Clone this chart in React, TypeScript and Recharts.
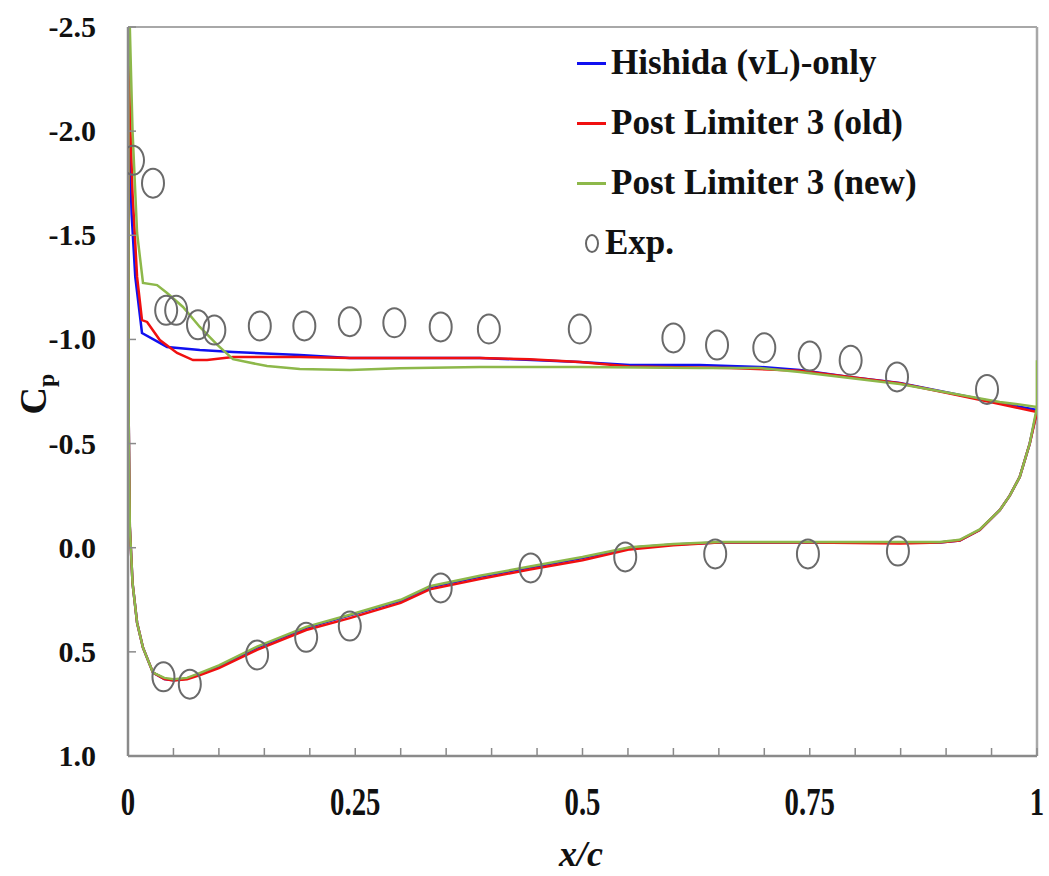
import React from 'react';
import { ComposedChart, Line, Scatter, XAxis, YAxis, ReferenceLine } from 'recharts';

// Pressure coefficient along the chord: upper surface from TE to LE, then lower surface back to TE
const hishidaX = [1.0, 0.959, 0.904, 0.849, 0.794, 0.739, 0.695, 0.629, 0.552, 0.497, 0.387, 0.244, 0.189, 0.1155, 0.079, 0.043, 0.0154, 0.008, 0.004, 0.002, 0.0005,
  0.0008, 0.002, 0.005, 0.01, 0.0165, 0.0275, 0.04, 0.05, 0.065, 0.08, 0.1, 0.142, 0.196, 0.244, 0.3, 0.332, 0.387, 0.442, 0.5, 0.552, 0.6, 0.65, 0.75, 0.85, 0.893, 0.915, 0.937, 0.959, 0.97, 0.981, 0.992, 1.0];
const hishidaCp = [-0.661, -0.695, -0.743, -0.791, -0.82, -0.853, -0.868, -0.877, -0.877, -0.892, -0.911, -0.911, -0.925, -0.94, -0.949, -0.964, -1.031, -1.3, -1.6, -1.9, -2.0,
  -0.6, -0.1, 0.17, 0.36, 0.48, 0.6, 0.63, 0.636, 0.628, 0.605, 0.57, 0.48, 0.385, 0.325, 0.255, 0.19, 0.14, 0.095, 0.05, 0.0, -0.015, -0.025, -0.025, -0.025, -0.025, -0.035, -0.085, -0.18, -0.25, -0.34, -0.5, -0.661];

const oldX = [1.0, 0.959, 0.904, 0.849, 0.794, 0.739, 0.662, 0.585, 0.552, 0.497, 0.442, 0.387, 0.244, 0.189, 0.1155, 0.087, 0.0715, 0.054, 0.035, 0.021, 0.0154, 0.01, 0.005, 0.002, 0.0005,
  0.0008, 0.002, 0.005, 0.01, 0.0165, 0.0275, 0.04, 0.05, 0.065, 0.08, 0.1, 0.142, 0.196, 0.244, 0.3, 0.332, 0.387, 0.442, 0.5, 0.552, 0.6, 0.65, 0.75, 0.85, 0.893, 0.915, 0.937, 0.959, 0.97, 0.981, 0.992, 1.0];
const oldCp = [-0.652, -0.69, -0.74, -0.79, -0.82, -0.85, -0.863, -0.868, -0.87, -0.892, -0.905, -0.911, -0.911, -0.916, -0.916, -0.901, -0.901, -0.935, -0.997, -1.084, -1.093, -1.3, -1.7, -2.1, -2.4,
  -0.6, -0.1, 0.17, 0.36, 0.48, 0.6, 0.63, 0.638, 0.632, 0.61, 0.578, 0.49, 0.395, 0.338, 0.265, 0.2, 0.15, 0.105, 0.06, 0.008, -0.012, -0.025, -0.025, -0.02, -0.025, -0.035, -0.085, -0.18, -0.25, -0.34, -0.5, -0.652];

const newX = [1.0, 1.0, 0.959, 0.849, 0.739, 0.695, 0.629, 0.497, 0.387, 0.299, 0.244, 0.189, 0.153, 0.1155, 0.098, 0.079, 0.0605, 0.043, 0.032, 0.0165, 0.01, 0.005, 0.002, 0.0003,
  0.0008, 0.002, 0.005, 0.01, 0.0165, 0.0275, 0.04, 0.05, 0.065, 0.08, 0.1, 0.142, 0.196, 0.244, 0.3, 0.332, 0.387, 0.442, 0.5, 0.552, 0.6, 0.65, 0.75, 0.85, 0.893, 0.915, 0.937, 0.959, 0.97, 0.981, 0.992, 1.0];
const newCp = [-0.9, -0.676, -0.7, -0.786, -0.844, -0.863, -0.863, -0.868, -0.868, -0.862, -0.853, -0.858, -0.872, -0.905, -0.975, -1.06, -1.156, -1.223, -1.261, -1.271, -1.511, -2.0, -2.5, -2.5,
  -0.6, -0.1, 0.17, 0.36, 0.48, 0.6, 0.625, 0.632, 0.625, 0.6, 0.565, 0.475, 0.38, 0.322, 0.25, 0.185, 0.135, 0.09, 0.045, -0.002, -0.018, -0.028, -0.028, -0.028, -0.028, -0.038, -0.088, -0.18, -0.25, -0.34, -0.5, -0.676];

const expX = [0.0055, 0.0275, 0.042, 0.053, 0.077, 0.095, 0.145, 0.194, 0.244, 0.293, 0.344, 0.397, 0.497, 0.6, 0.648, 0.7, 0.75, 0.795, 0.846, 0.945,
  0.039, 0.068, 0.142, 0.196, 0.244, 0.344, 0.443, 0.547, 0.646, 0.748, 0.847];
const expCp = [-1.86, -1.75, -1.14, -1.14, -1.07, -1.045, -1.065, -1.065, -1.085, -1.08, -1.06, -1.05, -1.05, -1.007, -0.973, -0.96, -0.92, -0.9, -0.82, -0.76,
  0.62, 0.655, 0.515, 0.43, 0.376, 0.193, 0.097, 0.044, 0.03, 0.03, 0.016];

const xTicks = [0, 0.05, 0.1, 0.15, 0.2, 0.25, 0.3, 0.35, 0.4, 0.45, 0.5, 0.55, 0.6, 0.65, 0.7, 0.75, 0.8, 0.85, 0.9, 0.95, 1];
const xLabels: Record<string, string> = { '0': '0', '0.25': '0.25', '0.5': '0.5', '0.75': '0.75', '1': '1' };
const yTicks = [-2.5, -2, -1.5, -1, -0.5, 0, 0.5, 1];

const seriesNames = ['Hishida (vL)-only', 'Post Limiter 3 (old)', 'Post Limiter 3 (new)', 'Exp.'];
const seriesColors = ['#1010f0', '#f01010', '#8db84a', '#666666'];

const zip = (xs: number[], ys: number[]) => xs.map((x, i) => ({ x, y: ys[i] }));
const hishidaData = zip(hishidaX, hishidaCp);
const oldData = zip(oldX, oldCp);
const newData = zip(newX, newCp);
const expData = zip(expX, expCp);

const FONT = '"Liberation Serif", "Times New Roman", serif';
const AXIS_GRAY = '#8a8a8a';

const XTick = ({ x, y, payload }: any) => {
  const label = xLabels[String(payload.value)];
  return (
    <g>
      <line x1={x} x2={x} y1={y} y2={y - 8} stroke={AXIS_GRAY} strokeWidth={1.5} />
      {label !== undefined && (
        <text transform={`translate(${x},${y + 59}) scale(0.72,1)`} textAnchor="middle" fontFamily={FONT} fontWeight="bold" fontSize={40} fill="#111">
          {label}
        </text>
      )}
    </g>
  );
};

const YTick = ({ x, y, payload }: any) => (
  <g>
    <line x1={x} x2={x + 8} y1={y} y2={y} stroke={AXIS_GRAY} strokeWidth={1.5} />
    <text x={x - 32} y={y} dy={10} textAnchor="end" fontFamily={FONT} fontWeight="bold" fontSize={30} fill="#111">
      {payload.value.toFixed(1)}
    </text>
  </g>
);

const ExpMarker = ({ cx, cy }: any) => (
  <ellipse cx={cx} cy={cy} rx={11} ry={14.5} fill="none" stroke="#6a6a6a" strokeWidth={2} />
);

const LegendBox = () => (
  <div style={{ position: 'absolute', left: 577, top: 33, fontFamily: FONT, fontWeight: 'bold', fontSize: 35, color: '#111' }}>
    {seriesNames.map((name, i) => (
      <div key={name} style={{ display: 'flex', alignItems: 'center', height: 60 }}>
        {i < 3 ? (
          <span style={{ display: 'inline-block', width: 29, height: 3, background: seriesColors[i], marginRight: 5 }} />
        ) : (
          <span style={{ display: 'inline-block', width: 14, height: 19, borderRadius: '50%', border: '2px solid #666', marginLeft: 8, marginRight: 6, boxSizing: 'border-box' }} />
        )}
        <span>{name}</span>
      </div>
    ))}
  </div>
);

const CpLabel = () => (
  <text transform="translate(46,394) rotate(-90)" textAnchor="middle" fontFamily={FONT} fontWeight="bold" fill="#111">
    <tspan fontSize={38}>C</tspan>
    <tspan fontSize={24} dy={8}>p</tspan>
  </text>
);

const XcLabel = () => (
  <text x={581} y={866} textAnchor="middle" fontFamily={FONT} fontWeight="bold" fontStyle="italic" fontSize={36} fill="#111">
    x/c
  </text>
);

export default function App() {
  return (
    <div style={{ position: 'absolute', left: 0, top: 0, width: 1049, height: 876, background: '#fff' }}>
      <ComposedChart width={1049} height={876} margin={{ top: 27, right: 12, left: 0, bottom: 0 }}>
        <XAxis
          type="number"
          dataKey="x"
          domain={[0, 1]}
          ticks={xTicks}
          interval={0}
          height={120}
          tickSize={0}
          tickMargin={0}
          tick={<XTick />}
          axisLine={{ stroke: AXIS_GRAY, strokeWidth: 2.5 }}
          allowDataOverflow
          label={<XcLabel />}
        />
        <YAxis
          type="number"
          dataKey="y"
          domain={[-2.5, 1]}
          reversed
          ticks={yTicks}
          interval={0}
          width={128}
          tickSize={0}
          tickMargin={0}
          tick={<YTick />}
          axisLine={{ stroke: AXIS_GRAY, strokeWidth: 2.5 }}
          allowDataOverflow
          label={<CpLabel />}
        />
        <ReferenceLine y={-2.5} stroke="#a8a8a8" strokeWidth={2} />
        <ReferenceLine x={1} stroke="#a8a8a8" strokeWidth={2.5} />
        <Line data={hishidaData} dataKey="y" type="linear" stroke={seriesColors[0]} strokeWidth={2.5} dot={false} isAnimationActive={false} />
        <Line data={oldData} dataKey="y" type="linear" stroke={seriesColors[1]} strokeWidth={2.5} dot={false} isAnimationActive={false} />
        <Line data={newData} dataKey="y" type="linear" stroke={seriesColors[2]} strokeWidth={2.5} dot={false} isAnimationActive={false} />
        <Scatter data={expData} dataKey="y" shape={<ExpMarker />} isAnimationActive={false} />
      </ComposedChart>
      <LegendBox />
    </div>
  );
}
